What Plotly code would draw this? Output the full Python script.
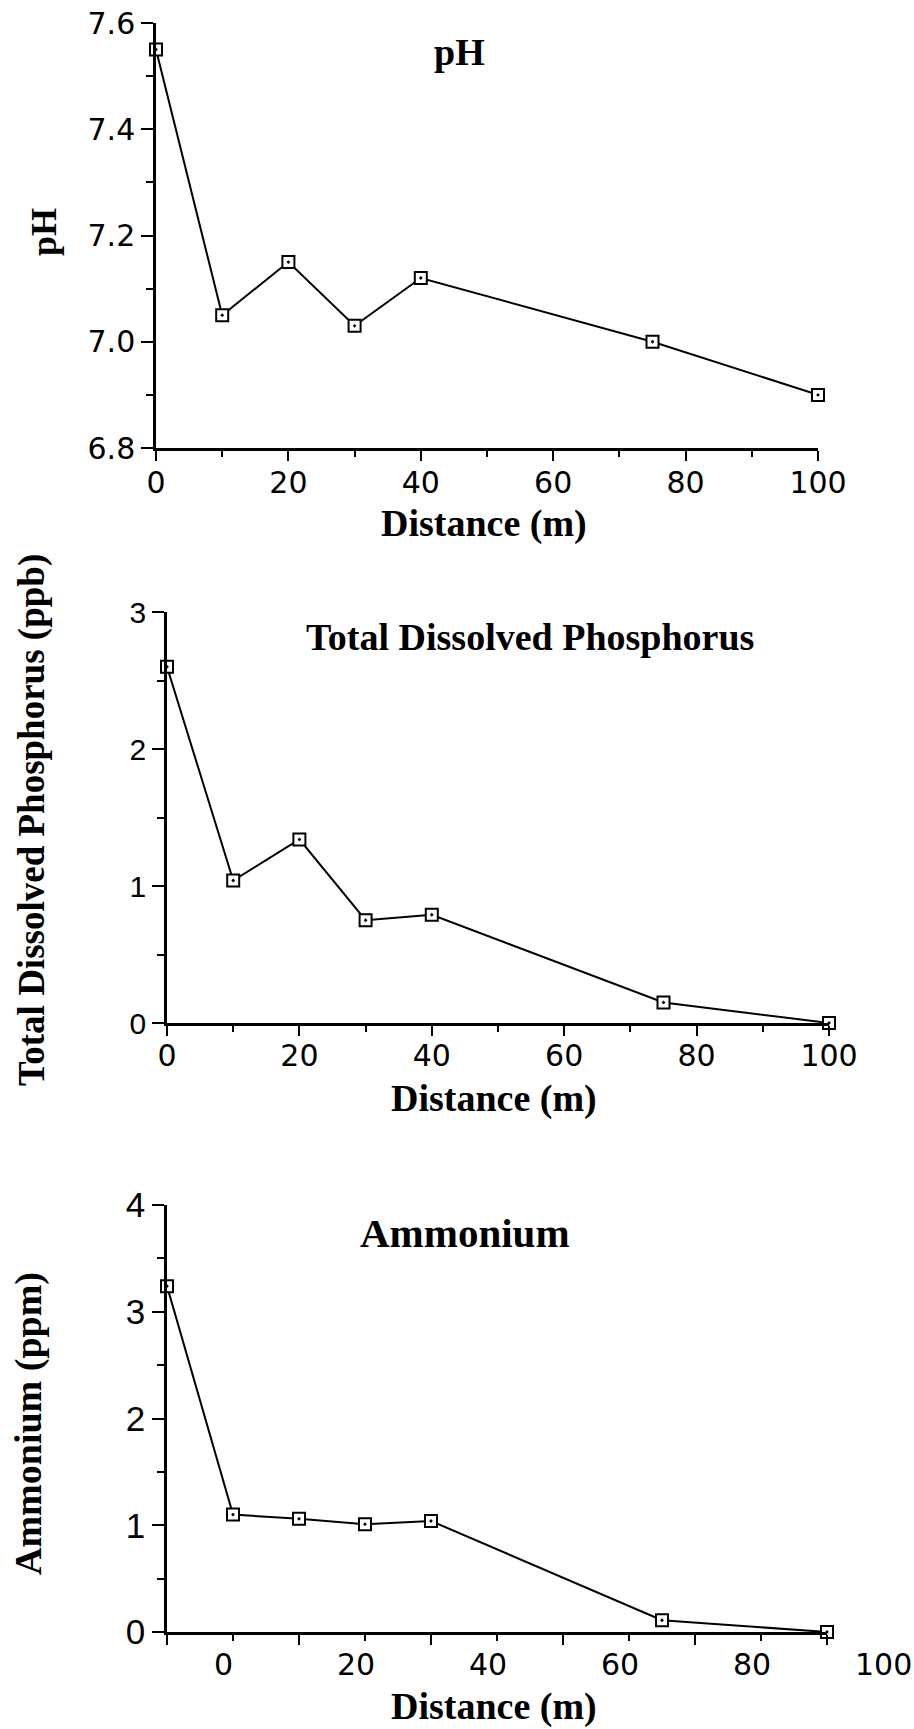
import plotly.graph_objects as go

W, H = 914, 1729

# ---------------- data ----------------
distance = [0, 10, 20, 30, 40, 75, 100]
ph = [7.55, 7.05, 7.15, 7.03, 7.12, 7.00, 6.90]
tdp = [2.60, 1.04, 1.34, 0.75, 0.79, 0.15, 0.00]
ammonium = [3.24, 1.10, 1.06, 1.01, 1.04, 0.11, 0.00]
x_tick_labels = [0, 20, 40, 60, 80, 100]
amm_label_shift = 8.6   # tick labels of the third panel are printed offset in the original

def px(x):
    return x / W

def py(y):
    return 1 - y / H

BLACK = "black"
TITLE_FONT = "Liberation Serif"
TICK_FONT = "DejaVu Sans"
NARROW_FONT = "Liberation Sans Narrow, Liberation Sans, Arial"

fig = go.Figure()
marker = dict(symbol="square-dot", size=12, color="white", line=dict(color=BLACK, width=2))
for xa, ya, vals in [("x", "y", ph), ("x2", "y2", tdp), ("x3", "y3", ammonium)]:
    fig.add_trace(go.Scatter(
        x=distance, y=vals, mode="lines+markers",
        line=dict(color=BLACK, width=2), marker=marker,
        xaxis=xa, yaxis=ya, cliponaxis=False, showlegend=False, hoverinfo="skip"))


def xaxis(domain, anchor, show_labels=True, standoff=0):
    return dict(
        domain=domain, anchor=anchor, range=[0, 100], automargin=False,
        showline=True, linecolor=BLACK, linewidth=2.5, mirror=False,
        ticks="outside", ticklen=10, tickwidth=2, tickcolor=BLACK,
        tickmode="linear", tick0=0, dtick=20, ticklabelstandoff=standoff,
        minor=dict(tickmode="linear", tick0=0, dtick=10, ticks="outside",
                   ticklen=6, tickwidth=2, tickcolor=BLACK, showgrid=False),
        showticklabels=show_labels,
        tickfont=dict(family=TICK_FONT, size=30, color=BLACK),
        showgrid=False, zeroline=False, fixedrange=True)


def yaxis(domain, anchor, rng, dtick, minor, fmt, font, size):
    return dict(
        domain=domain, anchor=anchor, range=rng, automargin=False,
        showline=True, linecolor=BLACK, linewidth=2.5,
        ticks="outside", ticklen=12, tickwidth=2, tickcolor=BLACK,
        tickmode="linear", tick0=rng[0], dtick=dtick, tickformat=fmt,
        minor=dict(tickmode="linear", tick0=rng[0], dtick=minor, ticks="outside",
                   ticklen=7, tickwidth=2, tickcolor=BLACK, showgrid=False),
        tickfont=dict(family=font, size=size, color=BLACK),
        showgrid=False, zeroline=False, fixedrange=True)


fig.update_layout(
    width=W, height=H,
    margin=dict(l=0, r=0, t=0, b=0, autoexpand=False),
    paper_bgcolor="white", plot_bgcolor="white",
    xaxis=xaxis([px(156), px(818)], "y", standoff=-4),
    yaxis=yaxis([py(448), py(23)], "x", [6.8, 7.6], 0.2, 0.1, ".1f", TICK_FONT, 30),
    xaxis2=xaxis([px(167), px(829)], "y2", standoff=-6),
    yaxis2=yaxis([py(1023), py(612)], "x2", [0, 3], 1, 0.5, "d", NARROW_FONT, 30),
    xaxis3=xaxis([px(167), px(827)], "y3", show_labels=False),
    yaxis3=yaxis([py(1632), py(1205)], "x3", [0, 4], 1, 0.5, "d", NARROW_FONT, 35),
)

ann = []


def text(t, x, y, size, angle=0, family=TITLE_FONT, bold=True):
    ann.append(dict(
        text=f"<b>{t}</b>" if bold else t, x=px(x), y=py(y), xref="paper", yref="paper",
        xanchor="center", yanchor="middle", showarrow=False, textangle=angle,
        font=dict(family=family, size=size, color=BLACK)))

# panel titles
text("pH", 460, 52, 38)
text("Total Dissolved Phosphorus", 530, 637, 38)
text("Ammonium", 465, 1233, 41)
# x titles
text("Distance (m)", 484, 523, 38)
text("Distance (m)", 494, 1098, 38)
text("Distance (m)", 494, 1706, 38)
# y titles
text("pH", 44, 232, 36, angle=-90)
text("Total Dissolved Phosphorus (ppb)", 32, 820, 37, angle=-90)
text("Ammonium (ppm)", 28, 1424, 38, angle=-90)

# third panel's shifted tick labels
for v in x_tick_labels:
    ann.append(dict(
        text=str(v), x=(v + amm_label_shift) / 100, y=0, xref="x3 domain", yref="y3 domain",
        xanchor="center", yanchor="top", yshift=-13, showarrow=False,
        font=dict(family=TICK_FONT, size=30, color=BLACK)))

fig.update_layout(annotations=ann)
fig.write_html("out.html")
